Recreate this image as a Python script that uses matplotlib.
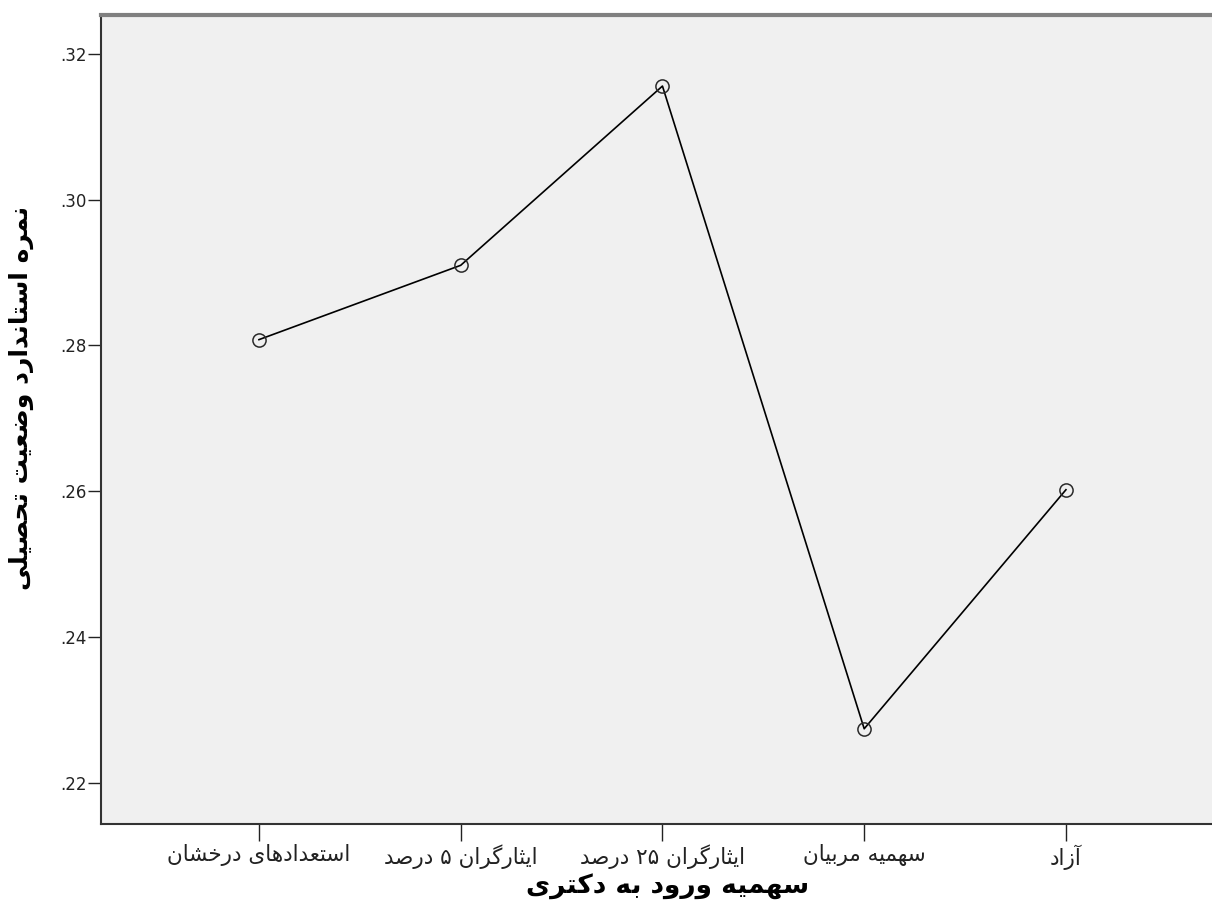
import matplotlib
matplotlib.use("Agg")
import matplotlib.pyplot as plt
from matplotlib.ticker import FixedLocator, FuncFormatter

# ---------------- data ----------------
categories = ["استعدادهای درخشان", "ایثارگران ۵ درصد", "ایثارگران ۲۵ درصد",
              "سهمیه مربیان", "آزاد"]
means = [0.2808, 0.2910, 0.3156, 0.2274, 0.2602]
y_ticks = [0.22, 0.24, 0.26, 0.28, 0.30, 0.32]
x_title = "سهمیه ورود به دکتری"
y_title = "نمره استاندارد وضعیت تحصیلی"

# ------------- minimal Arabic/Persian shaping (presentation forms) -------------
# char: (isolated, final, initial, medial); None for initial/medial = does not join forward
FORMS = {
    'ا': (0xFE8D, 0xFE8E, None, None),
    'آ': (0xFE81, 0xFE82, None, None),
    'أ': (0xFE83, 0xFE84, None, None),
    'ب': (0xFE8F, 0xFE90, 0xFE91, 0xFE92),
    'پ': (0xFB56, 0xFB57, 0xFB58, 0xFB59),
    'ت': (0xFE95, 0xFE96, 0xFE97, 0xFE98),
    'ث': (0xFE99, 0xFE9A, 0xFE9B, 0xFE9C),
    'ج': (0xFE9D, 0xFE9E, 0xFE9F, 0xFEA0),
    'ح': (0xFEA1, 0xFEA2, 0xFEA3, 0xFEA4),
    'خ': (0xFEA5, 0xFEA6, 0xFEA7, 0xFEA8),
    'د': (0xFEA9, 0xFEAA, None, None),
    'ذ': (0xFEAB, 0xFEAC, None, None),
    'ر': (0xFEAD, 0xFEAE, None, None),
    'ز': (0xFEAF, 0xFEB0, None, None),
    'س': (0xFEB1, 0xFEB2, 0xFEB3, 0xFEB4),
    'ش': (0xFEB5, 0xFEB6, 0xFEB7, 0xFEB8),
    'ص': (0xFEB9, 0xFEBA, 0xFEBB, 0xFEBC),
    'ض': (0xFEBD, 0xFEBE, 0xFEBF, 0xFEC0),
    'ط': (0xFEC1, 0xFEC2, 0xFEC3, 0xFEC4),
    'ظ': (0xFEC5, 0xFEC6, 0xFEC7, 0xFEC8),
    'ع': (0xFEC9, 0xFECA, 0xFECB, 0xFECC),
    'غ': (0xFECD, 0xFECE, 0xFECF, 0xFED0),
    'ف': (0xFED1, 0xFED2, 0xFED3, 0xFED4),
    'ق': (0xFED5, 0xFED6, 0xFED7, 0xFED8),
    'ک': (0xFB8E, 0xFB8F, 0xFB90, 0xFB91),
    'گ': (0xFB92, 0xFB93, 0xFB94, 0xFB95),
    'ل': (0xFEDD, 0xFEDE, 0xFEDF, 0xFEE0),
    'م': (0xFEE1, 0xFEE2, 0xFEE3, 0xFEE4),
    'ن': (0xFEE5, 0xFEE6, 0xFEE7, 0xFEE8),
    'ه': (0xFEE9, 0xFEEA, 0xFEEB, 0xFEEC),
    'و': (0xFEED, 0xFEEE, None, None),
    'ی': (0xFBFC, 0xFBFD, 0xFBFE, 0xFBFF),
    'ي': (0xFEF1, 0xFEF2, 0xFEF3, 0xFEF4),
}


def shape(text):
    out = []
    n = len(text)
    for i, ch in enumerate(text):
        if ch not in FORMS:
            out.append(ch)
            continue
        f = FORMS[ch]
        prev = text[i - 1] if i > 0 else None
        nxt = text[i + 1] if i + 1 < n else None
        jp = prev in FORMS and FORMS[prev][2] is not None
        jn = f[2] is not None and nxt in FORMS
        if jp and jn:
            cp = f[3]
        elif jp:
            cp = f[1]
        elif jn:
            cp = f[2]
        else:
            cp = f[0]
        out.append(chr(cp))
    return ''.join(out)


def rtl(text):
    s = shape(text)[::-1]
    # put digit runs back into left-to-right order
    res, run = [], []
    for c in s:
        if c.isdigit():
            run.append(c)
        else:
            if run:
                res.extend(run[::-1]); run = []
            res.append(c)
    if run:
        res.extend(run[::-1])
    return ''.join(res)


# ---------------- figure ----------------
plt.rcParams['font.family'] = ['DejaVu Sans']
fig = plt.figure(figsize=(12.12, 9.09), dpi=100)
ax = fig.add_axes([101 / 1212, 85 / 909, 1 - 101 / 1212, (824 - 15) / 909])
ax.set_facecolor('#F0F0F0')

x = list(range(len(categories)))
ax.plot(x, means, color='black', lw=1.2, marker='o', markersize=9.5,
        markerfacecolor='none', markeredgecolor='#2a2a2a', markeredgewidth=1.1,
        zorder=3)

ax.set_xlim(-0.783, 4.724)
ax.set_ylim(0.21433, 0.32535)

ax.yaxis.set_major_locator(FixedLocator(y_ticks))
ax.yaxis.set_major_formatter(FuncFormatter(lambda v, p: f"{v:.2f}".lstrip('0')))
ax.set_xticks(x)
ax.set_xticklabels([rtl(c) for c in categories])

ax.tick_params(axis='y', direction='out', length=9.5, width=1.0, pad=1,
               labelsize=12, colors='#222222')
ax.tick_params(axis='x', direction='out', length=12.5, width=1.0, pad=2,
               labelsize=15.5, colors='#222222')

for side in ('left', 'bottom'):
    ax.spines[side].set_color('#333333')
    ax.spines[side].set_linewidth(1.5)
ax.spines['top'].set_color('#808080')
ax.spines['top'].set_linewidth(3)
ax.spines['right'].set_visible(False)

ax.set_xlabel(rtl(x_title), fontsize=19, fontweight='bold')
ax.xaxis.label.set_va('center')
ax.xaxis.set_label_coords(0.51, (824 - 887) / 809)

ax.set_ylabel(rtl(y_title), fontsize=18, fontweight='bold')
ax.yaxis.label.set_va('center')
ax.yaxis.set_label_coords((21 - 101) / 1111, (824 - 398) / 809)

fig.savefig('out.png', dpi=100, facecolor='white')
